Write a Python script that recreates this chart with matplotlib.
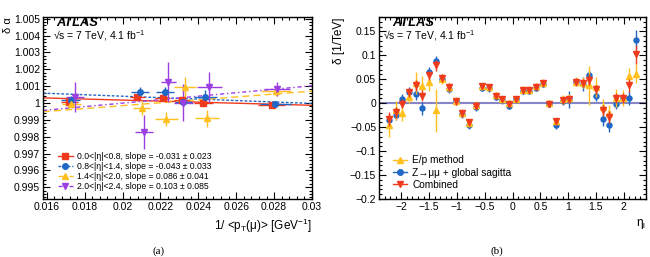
import numpy as np
import matplotlib
matplotlib.use('Agg')
import matplotlib.pyplot as plt
from matplotlib.ticker import MultipleLocator, FuncFormatter
from matplotlib.lines import Line2D

plt.rcParams['font.family'] = ['Liberation Sans', 'DejaVu Sans']
plt.rcParams['mathtext.fontset'] = 'custom'
plt.rcParams['mathtext.rm'] = 'Liberation Sans'
plt.rcParams['mathtext.it'] = 'Liberation Sans:italic'
plt.rcParams['mathtext.bf'] = 'Liberation Sans:bold'

# ---------------- Panel (a) data ----------------
eta_ranges = ['0.0<|η|<0.8', '0.8<|η|<1.4', '1.4<|η|<2.0', '2.0<|η|<2.4']
slopes = [-0.031, -0.043, 0.086, 0.103]
slope_errs = [0.023, 0.033, 0.041, 0.085]
intercepts = [1.00079, 1.00126, 0.99812, 0.99793]

inv_pt_r = [0.01718, 0.02078, 0.02212, 0.02312, 0.02426, 0.02787]
alpha_r = [1.00005, 1.00035, 1.00030, 1.00020, 1.00000, 0.99990]
alpha_r_err = [0.00012, 0.00012, 0.00012, 0.00012, 0.00012, 0.00008]
inv_pt_r_err = [0.00045, 0.0004, 0.0004, 0.0004, 0.0005, 0.0007]

inv_pt_b = [0.01726, 0.02092, 0.02224, 0.02321, 0.02436, 0.02807]
alpha_b = [1.00020, 1.00065, 1.00063, 1.00005, 1.00034, 0.99996]
alpha_b_err = [0.0002, 0.0003, 0.0003, 0.0003, 0.0004, 0.00012]
inv_pt_b_err = [0.0005, 0.00045, 0.00045, 0.00045, 0.0006, 0.0008]

inv_pt_y = [0.01729, 0.02101, 0.02230, 0.02330, 0.02444, 0.02810]
alpha_y = [0.99995, 0.99970, 0.99905, 1.00092, 0.99908, 1.00070]
alpha_y_err = [0.0002, 0.0004, 0.0004, 0.0006, 0.0005, 0.0003]
inv_pt_y_err = [0.0005, 0.00045, 0.0006, 0.00057, 0.00063, 0.0008]

inv_pt_p = [0.01749, 0.02113, 0.02242, 0.02321, 0.02458, 0.02814]
alpha_p = [1.00034, 0.99829, 1.00123, 1.00000, 1.00095, 1.00084]
alpha_p_err = [0.0009, 0.0010, 0.0012, 0.0011, 0.0009, 0.0004]
inv_pt_p_err = [0.0005, 0.00048, 0.0004, 0.0005, 0.00065, 0.0007]

# ---------------- Panel (b) data ----------------
eta = [-2.22, -2.10, -1.98, -1.86, -1.74, -1.62, -1.50, -1.38, -1.26, -1.14,
       -1.02, -0.90, -0.78, -0.66, -0.54, -0.42, -0.30, -0.18, -0.06,
       0.06, 0.18, 0.30, 0.42, 0.54, 0.66, 0.78, 0.90, 1.02, 1.14, 1.26,
       1.38, 1.50, 1.62, 1.74, 1.86, 1.98, 2.10, 2.22]
delta_comb = [-0.033, -0.019, -0.001, 0.023, 0.037, 0.016, 0.058, 0.079, 0.052, 0.034,
              0.004, -0.021, -0.040, -0.005, 0.035, 0.034, 0.016, 0.008, -0.001,
              0.008, 0.027, 0.027, 0.034, 0.042, -0.001, -0.038, 0.006, 0.008, 0.045, 0.042,
              0.049, 0.029, -0.015, -0.029, 0.011, 0.011, 0.037, 0.102]
delta_comb_err = [0.014, 0.011, 0.010, 0.009, 0.011, 0.011, 0.010, 0.011, 0.008, 0.008,
                  0.007, 0.007, 0.007, 0.007, 0.006, 0.006, 0.006, 0.006, 0.006,
                  0.006, 0.006, 0.006, 0.006, 0.006, 0.006, 0.007, 0.007, 0.008, 0.008, 0.008,
                  0.011, 0.010, 0.011, 0.012, 0.010, 0.010, 0.013, 0.020]
delta_zmm = [-0.035, -0.025, 0.008, 0.023, 0.020, -0.011, 0.065, 0.088, 0.051, 0.030,
             0.004, -0.023, -0.046, -0.008, 0.032, 0.031, 0.014, 0.006, -0.006,
             0.008, 0.026, 0.026, 0.032, 0.041, -0.001, -0.045, 0.004, 0.008, 0.044, 0.040,
             0.058, 0.016, -0.034, -0.046, -0.001, 0.011, 0.011, 0.133]
delta_zmm_err = [0.012, 0.010, 0.012, 0.011, 0.013, 0.013, 0.011, 0.010, 0.008, 0.009,
                 0.007, 0.007, 0.007, 0.008, 0.007, 0.007, 0.007, 0.007, 0.007,
                 0.007, 0.007, 0.007, 0.007, 0.007, 0.007, 0.008, 0.008, 0.018, 0.009, 0.014,
                 0.012, 0.012, 0.014, 0.015, 0.012, 0.011, 0.015, 0.020]
delta_ep = [-0.045, -0.015, -0.021, 0.014, 0.043, 0.036, 0.044, -0.015, 0.050, 0.033,
            0.004, -0.020, -0.041, -0.004, 0.035, 0.034, 0.017, 0.008, 0.000,
            0.009, 0.028, 0.028, 0.035, 0.043, 0.000, -0.038, 0.008, 0.010, 0.045, 0.043,
            0.037, 0.034, -0.007, -0.021, 0.011, 0.011, 0.056, 0.062]
delta_ep_err = [0.025, 0.020, 0.016, 0.014, 0.023, 0.020, 0.018, 0.045, 0.010, 0.010,
                0.008, 0.008, 0.008, 0.008, 0.007, 0.007, 0.007, 0.007, 0.007,
                0.007, 0.007, 0.007, 0.007, 0.007, 0.007, 0.008, 0.009, 0.010, 0.010, 0.011,
                0.040, 0.020, 0.016, 0.018, 0.018, 0.016, 0.018, 0.020]

RED = '#ef3b1d'
BLUE = '#1f68c6'
YEL = '#ffc020'
PUR = '#9b3fe3'

fig = plt.figure(figsize=(6.5, 2.57), dpi=100)
W, H = 650.0, 257.0
axA = fig.add_axes([43 / W, 1 - 199 / H, 269 / W, 182 / H])
axB = fig.add_axes([379 / W, 1 - 199 / H, 267 / W, 182 / H])


def fmt(v, pos):
    s = '%g' % round(v, 6)
    return s.replace('-', '\u2212')


for ax in (axA, axB):
    ax.tick_params(which='both', direction='in', top=True, right=True,
                   labelsize=7.5, pad=2, width=0.8)
    ax.tick_params(which='major', length=5)
    ax.tick_params(which='minor', length=2.5)
    for sp in ax.spines.values():
        sp.set_linewidth(1.0)

# ---------------- Panel (a) ----------------
series_a = [
    (inv_pt_r, alpha_r, inv_pt_r_err, alpha_r_err, RED, 's', '-'),
    (inv_pt_b, alpha_b, inv_pt_b_err, alpha_b_err, BLUE, 'o', (0, (2, 1.3))),
    (inv_pt_y, alpha_y, inv_pt_y_err, alpha_y_err, YEL, '^', (0, (5, 3))),
    (inv_pt_p, alpha_p, inv_pt_p_err, alpha_p_err, PUR, 'v', (0, (3, 2, 1, 2))),
]
xlimA = (0.0158, 0.0300)
xl = np.array(xlimA)
handles_a = []
for i, (xs, ys, xe, ye, c, m, ls) in enumerate(series_a):
    axA.plot(xl, intercepts[i] + slopes[i] * xl, color=c, ls=ls, lw=1.0, zorder=2)
    axA.errorbar(xs, ys, xerr=xe, yerr=ye, fmt=m, color=c, ms=4, elinewidth=1.0,
                 capsize=0, zorder=3)
    lab = f'{eta_ranges[i]}, slope = {slopes[i]:.3f} ± {slope_errs[i]:.3f}'
    handles_a.append(Line2D([], [], color=c, ls=ls, lw=1.0, marker=m, ms=4, label=lab))

axA.set_xlim(*xlimA)
axA.set_ylim(0.9943, 1.0051)
axA.xaxis.set_major_locator(MultipleLocator(0.002))
axA.xaxis.set_minor_locator(MultipleLocator(0.0004))
axA.yaxis.set_major_locator(MultipleLocator(0.001))
axA.yaxis.set_minor_locator(MultipleLocator(0.0002))
axA.xaxis.set_major_formatter(FuncFormatter(fmt))
axA.yaxis.set_major_formatter(FuncFormatter(fmt))

axA.legend(handles=handles_a, loc='lower left', bbox_to_anchor=(0.056, 0.045),
           frameon=False, fontsize=6.2, handlelength=1.7, handletextpad=0.45,
           labelspacing=0.12, borderaxespad=0, borderpad=0)

axA.set_ylabel('δ α', loc='top', fontsize=8)
axA.yaxis.set_label_coords(-0.112, 1.0)
axA.set_xlabel(r'1/ <p$_{\mathrm{T}}$(μ)> [GeV$^{-1}$]', loc='right', fontsize=8.5)
axA.xaxis.set_label_coords(1.0, -0.1)

axA.text(0.051, 0.952, 'ATLAS', transform=axA.transAxes, fontsize=9.3,
         fontweight='bold', fontstyle='italic', va='baseline')
axA.text(0.038, 0.876, r'√s = 7 TeV, 4.1 fb$^{-1}$', transform=axA.transAxes,
         fontsize=7.5, va='baseline')

# ---------------- Panel (b) ----------------
axB.axhline(0, color='#8585c8', lw=1.5, zorder=1)
axB.errorbar(eta, delta_zmm, yerr=delta_zmm_err, fmt='o', color=BLUE, ms=3.6,
             elinewidth=1.0, capsize=0, zorder=3)
axB.errorbar(eta, delta_ep, yerr=delta_ep_err, fmt='^', color=YEL, ms=3.8,
             elinewidth=1.0, capsize=0, zorder=4)
axB.errorbar(eta, delta_comb, yerr=delta_comb_err, fmt='v', color=RED, ms=3.8,
             elinewidth=1.0, capsize=0, zorder=5)

axB.set_xlim(-2.4, 2.4)
axB.set_ylim(-0.2, 0.18)
axB.xaxis.set_major_locator(MultipleLocator(0.5))
axB.xaxis.set_minor_locator(MultipleLocator(0.1))
axB.yaxis.set_major_locator(MultipleLocator(0.05))
axB.yaxis.set_minor_locator(MultipleLocator(0.01))
axB.xaxis.set_major_formatter(FuncFormatter(fmt))
axB.yaxis.set_major_formatter(FuncFormatter(fmt))

handles_b = [
    Line2D([], [], color=YEL, lw=1.0, marker='^', ms=4, label='E/p method'),
    Line2D([], [], color=BLUE, lw=1.0, marker='o', ms=4, label='Z→μμ + global sagitta'),
    Line2D([], [], color=RED, lw=1.0, marker='v', ms=4, label='Combined'),
]
axB.legend(handles=handles_b, loc='lower left', bbox_to_anchor=(0.052, 0.05),
           frameon=False, fontsize=7.3, handlelength=1.4, handletextpad=0.5,
           labelspacing=0.22, borderaxespad=0, borderpad=0)

axB.set_ylabel('δ [1/TeV]', loc='top', fontsize=8.5)
axB.yaxis.set_label_coords(-0.128, 1.0)
axB.set_xlabel(r'η$_{\mathrm{l}}$', loc='right', fontsize=8.5)
axB.xaxis.set_label_coords(1.0, -0.1)

axB.text(0.048, 0.952, 'ATLAS', transform=axB.transAxes, fontsize=9.3,
         fontweight='bold', fontstyle='italic', va='baseline')
axB.text(0.016, 0.876, r'√s = 7 TeV, 4.1 fb$^{-1}$', transform=axB.transAxes,
         fontsize=7.5, va='baseline')

fig.text(159 / W, 1 - 251 / H, '(a)', ha='center', va='center',
         family='Liberation Serif', fontsize=8)
fig.text(497 / W, 1 - 251 / H, '(b)', ha='center', va='center',
         family='Liberation Serif', fontsize=8)

fig.savefig('out.png', dpi=100)
